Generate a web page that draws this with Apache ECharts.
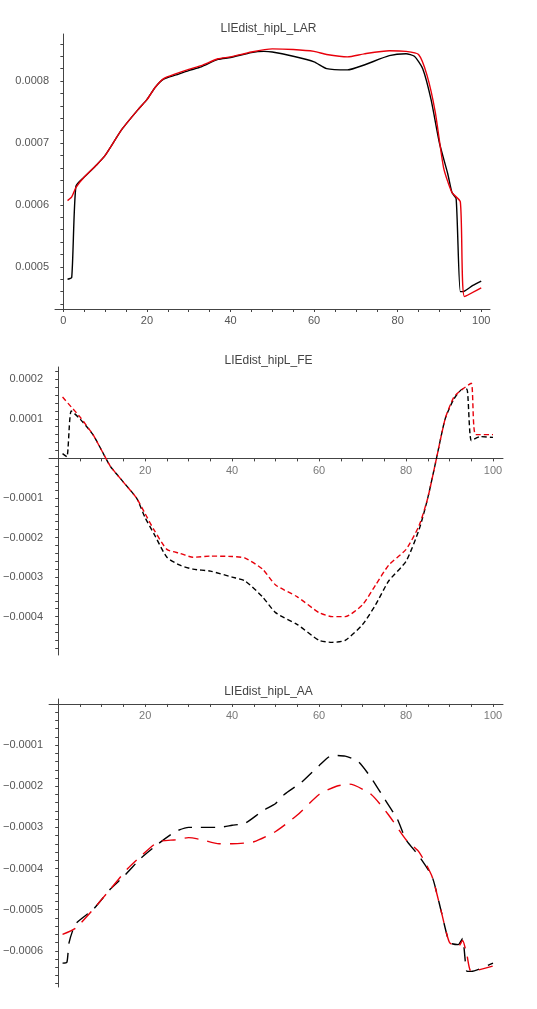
<!DOCTYPE html>
<html><head><meta charset="utf-8">
<script src="https://cdn.jsdelivr.net/npm/echarts@6/dist/echarts.min.js"></script>
<style>html,body{margin:0;padding:0;background:#fff}#c{width:537px;height:1009px}</style>
</head><body><div id="c"></div>
<script>
// Chart 1: LIEdist_hipL_LAR
const larBlackX=[1,2,3,5,8,10,14,18,20,22,24,27,30,33,37,40,45,48,50,55,60,63,68,72,78,82,84,86,88,90,92,93,94,95,96,98,100];
const larBlackY=[0.00048,0.000483,0.00063,0.000645,0.000665,0.00068,0.000722,0.000755,0.00077,0.00079,0.000803,0.00081,0.000817,0.000823,0.000835,0.000838,0.000846,0.000848,0.000847,0.00084,0.000831,0.00082,0.000818,0.000826,0.000841,0.000844,0.00084,0.00082,0.00077,0.0007,0.00065,0.00062,0.00061,0.00046,0.000461,0.00047,0.000477];
const larRedX=[1,2,3,5,8,10,14,18,20,22,24,27,30,33,37,40,45,50,55,60,63,68,72,78,82,85,87,89,91,93,95,96,100];
const larRedY=[0.000607,0.000613,0.000628,0.000645,0.000665,0.00068,0.000722,0.000755,0.00077,0.00079,0.000804,0.000812,0.000819,0.000825,0.000836,0.000839,0.000847,0.000852,0.000851,0.000848,0.000843,0.000839,0.000844,0.000849,0.000848,0.000843,0.00081,0.00075,0.00066,0.00062,0.000605,0.000452,0.000466];
// Chart 2: LIEdist_hipL_FE
const feBlackX=[1,2,3,5,8,10,12,15,18,20,22,25,28,31,35,40,43,47,50,55,60,63,66,70,73,76,80,83,85,87,89,91,93,94,95,97,100];
const feBlackY=[0.000012,0.000004,0.00012,0.0001,0.00006,0.00002,-0.00002,-0.00006,-0.0001,-0.00015,-0.00019,-0.00025,-0.00027,-0.00028,-0.000285,-0.0003,-0.00031,-0.00035,-0.00039,-0.00042,-0.00046,-0.000465,-0.00046,-0.00042,-0.00037,-0.00031,-0.00026,-0.00018,-0.0001,0,0.0001,0.00015,0.000175,0.000175,0.000045,0.000055,0.000053];
const feRedX=[1,3,5,8,10,12,15,18,20,22,25,28,31,35,40,43,47,50,55,60,63,66,70,73,76,80,83,85,87,89,91,93,95,96,100];
const feRedY=[0.000155,0.00013,0.000105,0.00006,0.00002,-0.00002,-0.00006,-0.0001,-0.00014,-0.00018,-0.00023,-0.00024,-0.00025,-0.000247,-0.000248,-0.000252,-0.00028,-0.00032,-0.00035,-0.00039,-0.0004,-0.0004,-0.00037,-0.00032,-0.00027,-0.00023,-0.00017,-0.0001,0,0.0001,0.000155,0.000175,0.00019,0.00006,0.00006];
// Chart 3: LIEdist_hipL_AA
const aaBlackX=[1,2,2.5,4,8,12,15,19,23,27,30,32,37,40,43,47,50,52,56,60,63,66,69,72,75,78,80,83,86,88,90,92,93,94,95,100];
const aaBlackY=[-0.00063,-0.000628,-0.00058,-0.000535,-0.0005,-0.00045,-0.00042,-0.000375,-0.00034,-0.00031,-0.0003,-0.0003,-0.0003,-0.000295,-0.00029,-0.00026,-0.000242,-0.00022,-0.00019,-0.00015,-0.000125,-0.000127,-0.00014,-0.00018,-0.00023,-0.00028,-0.00033,-0.00037,-0.00042,-0.0005,-0.00058,-0.000585,-0.00057,-0.00065,-0.00065,-0.00063];
const aaRedX=[1,4,8,12,16,19,23,27,30,33,37,40,45,50,55,60,64,67,72,76,80,83,86,88,90,92,93,94,95,100];
const aaRedY=[-0.00056,-0.000545,-0.0005,-0.00045,-0.0004,-0.00037,-0.000335,-0.00033,-0.000325,-0.00033,-0.00034,-0.00034,-0.000335,-0.00031,-0.00027,-0.00022,-0.0002,-0.000195,-0.00022,-0.00027,-0.00033,-0.00036,-0.00042,-0.0005,-0.00058,-0.00059,-0.000575,-0.00061,-0.00065,-0.000637];
const titles=["LIEdist_hipL_LAR","LIEdist_hipL_FE","LIEdist_hipL_AA"];
const xLabels=[20,40,60,80,100];
const y1Labels=[0.0005,0.0006,0.0007,0.0008];
const y2Labels=[-0.0004,-0.0003,-0.0002,-0.0001,0.0001,0.0002];
const y3Labels=[-0.0006,-0.0005,-0.0004,-0.0003,-0.0002,-0.0001];

const pairs=(xs,ys)=>xs.map((x,i)=>[x,ys[i]]);
const range=(a,b,s)=>{const r=[];for(let v=a;v<=b+1e-12;v+=s)r.push(+v.toFixed(8));return r;};
const fmt=v=>v.toFixed(4).replace('-','\u2212');
const lab={color:'#555',fontSize:11,fontFamily:'Liberation Sans, Arial, sans-serif'};
const grids=[
 {left:55,right:47,top:34,height:275},
 {left:48,right:34,top:367,height:288},
 {left:48,right:34,top:699,height:288}];
function xa(i,min,max,labels){return {type:'value',gridIndex:i,min,max,splitLine:{show:false},
 axisLine:{onZero:true,lineStyle:{color:'#444',width:1}},
 axisTick:{customValues:range(0,100,5),length:3,lineStyle:{color:'#444'}},
 axisLabel:Object.assign({show:!!labels,customValues:labels||[],margin:6},lab)};}
function ya(i,min,max,labels,minor){return {type:'value',gridIndex:i,min,max,splitLine:{show:false},
 axisLine:{show:true,onZero:true,lineStyle:{color:'#444',width:1}},
 axisTick:{show:true,customValues:minor,length:3,lineStyle:{color:'#444'}},
 axisLabel:Object.assign({customValues:labels,formatter:fmt,margin:6},lab)};}
function ln(i,data,color,dash){return {type:'line',xAxisIndex:i,yAxisIndex:i,data,showSymbol:false,smooth:0.2,
 lineStyle:{color,width:1.4,type:dash||'solid'},animation:false};}
// x tick labels on the zero line (charts 2 and 3)
function zeroLabels(i){return {type:'scatter',xAxisIndex:i,yAxisIndex:i,symbolSize:0,silent:true,
 data:xLabels.map(x=>[x,0]),
 label:Object.assign({show:true,position:'bottom',distance:7,formatter:p=>String(p.value[0])},lab)};}
const d2=[5,3],d3=[14,9];
const chart=echarts.init(document.getElementById('c'));
chart.setOption({animation:false,
 title:titles.map((t,i)=>({text:t,left:'center',top:[18,350,681][i],textStyle:{fontSize:12,fontWeight:'normal',color:'#444',fontFamily:'Liberation Sans, Arial, sans-serif'}})),
 grid:grids,
 xAxis:[xa(0,-2,102.1,[0].concat(xLabels)),xa(1,-2.1,102.3,null),xa(2,-2.1,102.3,null)],
 yAxis:[ya(0,0.000432,0.000876,y1Labels,range(0.00044,0.00086,0.00002)),
        ya(1,-0.000497,0.000231,y2Labels,range(-0.00048,0.00022,0.00002)),
        ya(2,-0.000688,0.000012,y3Labels,range(-0.00068,0,0.00002))],
 series:[ln(0,pairs(larBlackX,larBlackY),'#000'),ln(0,pairs(larRedX,larRedY),'#e8000b'),
   ln(1,pairs(feBlackX,feBlackY),'#000',d2),ln(1,pairs(feRedX,feRedY),'#e8000b',d2),
   ln(2,pairs(aaBlackX,aaBlackY),'#000',d3),ln(2,pairs(aaRedX,aaRedY),'#e8000b',d3),
   zeroLabels(1),zeroLabels(2)]
});
</script></body></html>
